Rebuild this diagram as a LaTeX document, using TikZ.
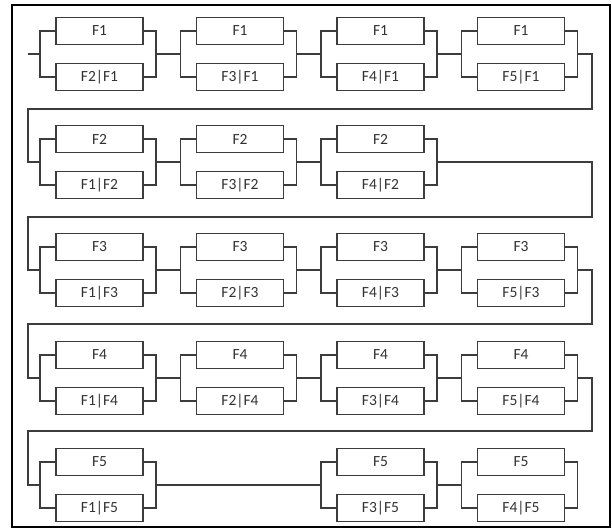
\documentclass[tikz,border=0pt]{standalone}
\usepackage{fontspec}
\setmainfont{Carlito}
\definecolor{lc}{RGB}{60,60,60}
\definecolor{tc}{RGB}{50,50,50}
\begin{document}
\begin{tikzpicture}[x=1pt,y=-1pt,
  fbox/.style={draw=lc, line width=1.2pt, minimum width=87pt, minimum height=27pt, inner sep=0pt,
    font=\fontsize{15.5}{17}\selectfont, text=tc},
  wire/.style={draw=lc, line width=1.2pt}]
\useasboundingbox (0,0) rectangle (612,529);
\draw[line width=1.6pt] (12,5) rectangle (610,527);
\foreach \n/\x/\y/\a/\b in {
  g11/40/54/F1/F2|F1, g12/180.5/54/F1/F3|F1, g13/321/54/F1/F4|F1, g14/461.5/54/F1/F5|F1,
  g21/40/162/F2/F1|F2, g22/180.5/162/F2/F3|F2, g23/321/162/F2/F4|F2,
  g31/40/270/F3/F1|F3, g32/180.5/270/F3/F2|F3, g33/321/270/F3/F4|F3, g34/461.5/270/F3/F5|F3,
  g41/40/378/F4/F1|F4, g42/180.5/378/F4/F2|F4, g43/321/378/F4/F3|F4, g44/461.5/378/F4/F5|F4,
  g51/40/485/F5/F1|F5, g53/321/485/F5/F3|F5, g54/461.5/485/F5/F4|F5}{
  \node[fbox] (\n u) at (\x+59.5,\y-23) {\a};
  \node[fbox] (\n l) at (\x+59.5,\y+23) {\b};
  \coordinate (\n L) at (\x,\y);
  \coordinate (\n R) at (\x+116,\y);
  \draw[wire] (\n u.west) -| (\n L) |- (\n l.west);
  \draw[wire] (\n u.east) -| (\n R) |- (\n l.east);
}
% series links within rows
\draw[wire] (g11R) -- (g12L);
\draw[wire] (g12R) -- (g13L);
\draw[wire] (g13R) -- (g14L);
\draw[wire] (g21R) -- (g22L);
\draw[wire] (g22R) -- (g23L);
\draw[wire] (g31R) -- (g32L);
\draw[wire] (g32R) -- (g33L);
\draw[wire] (g33R) -- (g34L);
\draw[wire] (g41R) -- (g42L);
\draw[wire] (g42R) -- (g43L);
\draw[wire] (g43R) -- (g44L);
\draw[wire] (g51R) -- (g53L);
\draw[wire] (g53R) -- (g54L);
% start stub
\coordinate (start) at (28,54);
\draw[wire] (start) -- (g11L);
% row turns
\coordinate (e1) at (592,109);
\coordinate (w1) at (28,109);
\coordinate (e2) at (592,217);
\coordinate (w2) at (28,217);
\coordinate (e3) at (592,324);
\coordinate (w3) at (28,324);
\coordinate (e4) at (592,431);
\coordinate (w4) at (28,431);
\draw[wire] (g14R) -| (e1) -- (w1) |- (g21L);
\draw[wire] (g23R) -| (e2) -- (w2) |- (g31L);
\draw[wire] (g34R) -| (e3) -- (w3) |- (g41L);
\draw[wire] (g44R) -| (e4) -- (w4) |- (g51L);
\end{tikzpicture}
\end{document}
